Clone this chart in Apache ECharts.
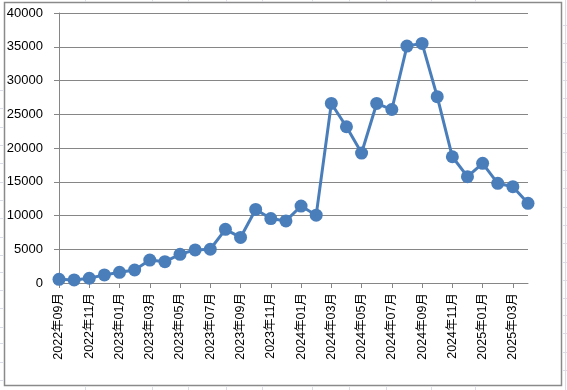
<!DOCTYPE html>
<html>
<head>
<meta charset="utf-8">
<script src="https://cdn.jsdelivr.net/npm/echarts@6/dist/echarts.min.js"></script>
<style>
html,body{margin:0;padding:0;background:#fff;}
#c{width:567px;height:390px;}
</style>
</head>
<body>
<div id="c"></div>
<script>
const categories = [
  "2022年09月","2022年10月","2022年11月","2022年12月",
  "2023年01月","2023年02月","2023年03月","2023年04月","2023年05月","2023年06月",
  "2023年07月","2023年08月","2023年09月","2023年10月","2023年11月","2023年12月",
  "2024年01月","2024年02月","2024年03月","2024年04月","2024年05月","2024年06月",
  "2024年07月","2024年08月","2024年09月","2024年10月","2024年11月","2024年12月",
  "2025年01月","2025年02月","2025年03月","2025年04月"
];
const values = [
  550, 450, 700, 1200,
  1580, 1930, 3400, 3160, 4250, 4900,
  5000, 7950, 6750, 10900, 9550, 9200,
  11400, 10050, 26600, 23150, 19250, 26600,
  25700, 35100, 35500, 27600, 18700, 15750,
  17730, 14770, 14270, 11800
];
const yTicks = { min: 0, max: 40000, interval: 5000 };

const chart = echarts.init(document.getElementById('c'), null, {renderer:'canvas'});

// decorative spreadsheet cell lines outside the chart area
const deco = [];
const sheetColor = '#d9dde6';
[85,152,188,226,262,312,349,386,431,475].forEach(x=>{
  deco.push({type:'line',shape:{x1:x+0.5,y1:0,x2:x+0.5,y2:2},style:{stroke:sheetColor,lineWidth:1},silent:true});
  deco.push({type:'line',shape:{x1:x+0.5,y1:387,x2:x+0.5,y2:390},style:{stroke:sheetColor,lineWidth:1},silent:true});
});
[90,108,127,145,163,182,200,218,237,255,272,290,308,327,343,362,380].forEach(y=>{
  deco.push({type:'line',shape:{x1:0,y1:y+0.5,x2:3,y2:y+0.5},style:{stroke:sheetColor,lineWidth:1},silent:true});
});
[25,43,62,80,98,117,133,152,170,188,207,225,243,262,280,298,315,333,352,370].forEach(y=>{
  deco.push({type:'line',shape:{x1:563,y1:y+0.5,x2:567,y2:y+0.5},style:{stroke:sheetColor,lineWidth:1},silent:true});
});
deco.push({type:'line',shape:{x1:565.5,y1:0,x2:565.5,y2:390},style:{stroke:sheetColor,lineWidth:1},silent:true});
deco.push({type:'rect',shape:{x:4.5,y:2.5,width:557,height:383},style:{fill:null,stroke:'#8a8a8a',lineWidth:1.5},silent:true,z:-1});

chart.setOption({
  animation:false,
  backgroundColor:'#ffffff',
  graphic: deco,
  grid:{left:59,right:39,top:13,bottom:107,containLabel:false},
  xAxis:{
    type:'category',
    data:categories,
    boundaryGap:false,
    axisLine:{show:true,lineStyle:{color:'#868686',width:1}},
    axisTick:{show:true,interval:1,length:5,lineStyle:{color:'#868686'}},
    axisLabel:{
      interval:1,rotate:90,margin:10,color:'#000',
      fontSize:12.5,fontFamily:'"Liberation Sans","Noto Sans CJK SC",sans-serif'
    },
    splitLine:{show:false}
  },
  yAxis:{
    type:'value',
    min:yTicks.min,max:yTicks.max,interval:yTicks.interval,
    axisLine:{show:true,lineStyle:{color:'#868686',width:1}},
    axisTick:{show:true,length:5,lineStyle:{color:'#868686'}},
    axisLabel:{margin:16,color:'#000',fontSize:13,fontFamily:'"Liberation Sans",Arial,sans-serif',
      formatter:function(v){return String(v);}},
    splitLine:{show:true,lineStyle:{color:'#868686',width:1}}
  },
  series:[{
    type:'line',
    data:values,
    symbol:'circle',
    symbolSize:13,
    showSymbol:true,
    showAllSymbol:true,
    lineStyle:{color:'#4a7ebb',width:3},
    itemStyle:{color:'#4a7ebb'},
    clip:false
  }]
});
</script>
</body>
</html>
